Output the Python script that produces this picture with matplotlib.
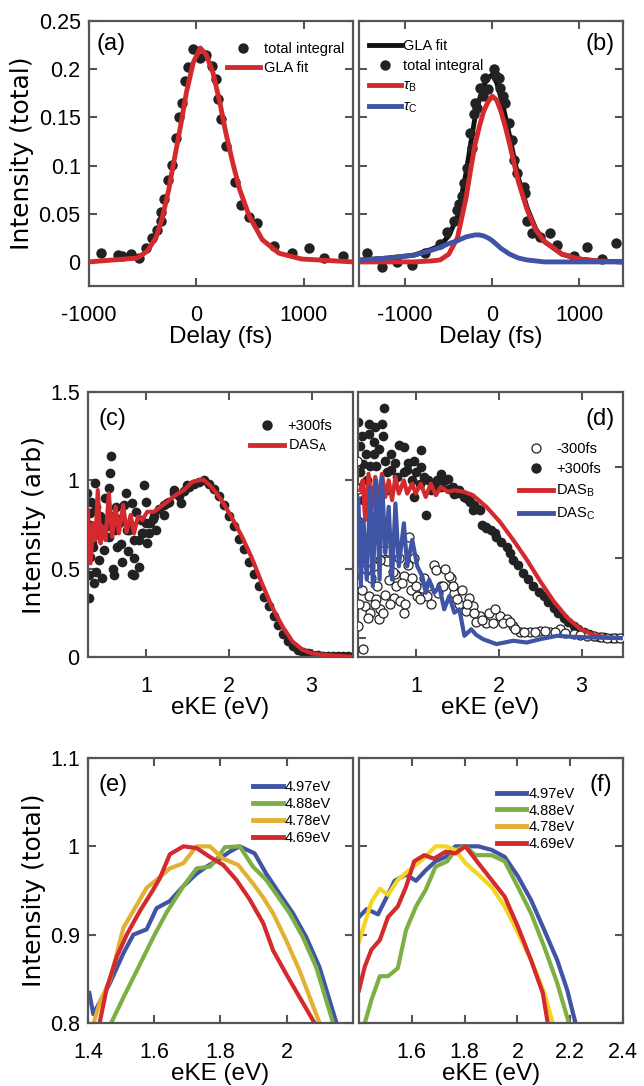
import numpy as np
import matplotlib
matplotlib.use("Agg")
import matplotlib.pyplot as plt
from matplotlib.lines import Line2D
from matplotlib.ticker import FormatStrFormatter

plt.rcParams['font.family'] = ['Liberation Sans', 'DejaVu Sans']
plt.rcParams['mathtext.fontset'] = 'custom'
plt.rcParams['mathtext.rm'] = 'Liberation Sans'
plt.rcParams['mathtext.it'] = 'Liberation Sans:italic'

RED = '#d42a2e'
BLUE = '#3f54a5'
GREEN = '#7daf45'
MUST = '#e2b132'
YEL = '#f4d522'
SPINE = '#555555'

# ---- (a) total integral vs delay
a_delay = [-890, -734, -690, -606, -532, -468, -413, -367, -330, -330, -303, -266, -229, -193,
           -165, -138, -101, -73, -28, 37, 92, 147, 183, 202, 229, 275, 358, 413, 495, 569,
           725, 890, 1046, 1193, 1367]
a_int = [0.009, 0.007, 0.006, 0.008, 0.004, 0.014, 0.025, 0.033, 0.042, 0.052, 0.065, 0.085,
         0.101, 0.129, 0.150, 0.165, 0.188, 0.202, 0.221, 0.212, 0.215, 0.203, 0.190, 0.169,
         0.148, 0.120, 0.083, 0.059, 0.047, 0.040, 0.016, 0.009, 0.014, 0.004, 0.006]
a_fit_x = [-1000, -550, -459, -376, -321, -257, -211, -147, -92, -28, 37, 92, 156, 220, 275,
           339, 404, 495, 615, 771, 982, 1460]
a_fit_y = [0.0, 0.004, 0.011, 0.025, 0.044, 0.075, 0.103, 0.141, 0.176, 0.207, 0.222, 0.215,
           0.196, 0.165, 0.134, 0.103, 0.075, 0.047, 0.023, 0.009, 0.003, 0.0]

# ---- (b) components
b_delay = [-1440, -1268, -1096, -923, -770, -598, -521, -444, -406, -349, -291, -253, -215,
           -195, -138, -80, -46, 15, 73, 92, 149, 188, 226, 245, 284, 360, 379, 398, 456, 552,
           667, 743, 935, 1088, 1261, 1425, -380, -320, -230, -170, -110, 40, 120]
b_int = [0.009, -0.005, 0.0, -0.003, 0.009, 0.019, 0.031, 0.042, 0.054, 0.068, 0.097, 0.134,
         0.153, 0.165, 0.180, 0.191, 0.179, 0.200, 0.191, 0.180, 0.165, 0.144, 0.127, 0.106,
         0.092, 0.078, 0.071, 0.042, 0.030, 0.026, 0.030, 0.018, 0.006, 0.015, 0.003, 0.020,
         0.060, 0.082, 0.118, 0.160, 0.172, 0.193, 0.172]
b_grid = [-1500, -1200, -900, -700, -600, -500, -400, -300, -250, -200, -150, -100, -50, 0,
          50, 100, 150, 200, 250, 300, 400, 500, 600, 800, 1000, 1200, 1500]
tau_b = [0.0, 0.0, 0.0, 0.001, 0.002, 0.008, 0.025, 0.067, 0.095, 0.121, 0.140, 0.156, 0.166,
         0.172, 0.168, 0.156, 0.140, 0.122, 0.102, 0.083, 0.054, 0.033, 0.021, 0.008, 0.003,
         0.001, 0.0]
tau_c = [0.002, 0.004, 0.007, 0.012, 0.015, 0.019, 0.022, 0.026, 0.027, 0.028, 0.028, 0.027,
         0.025, 0.022, 0.018, 0.014, 0.011, 0.008, 0.006, 0.004, 0.002, 0.001, 0.0, 0.0, 0.0,
         0.0, 0.0]

# ---- (c) +300fs spectrum and DAS_A
c_eke = [0.572, 0.564, 0.39, 0.552, 0.29, 0.754, 0.976, 0.996, 0.834, 0.33, 0.633, 0.49, 1.218,
         1.339, 1.42, 1.117, 1.016, 0.855, 0.652, 0.49, 0.33, 0.713, 0.915, 0.612, 0.855, 0.47,
         0.309, 0.37, 0.309, 0.41, 0.773, 0.936, 1.258, 1.5, 0.31, 0.35, 0.43, 0.53, 0.68,
         0.80, 0.95, 1.05,
         0.32, 0.34, 0.36, 0.40, 0.43, 0.45, 0.50, 0.55, 0.58, 0.62, 0.66, 0.70, 0.74, 0.78,
         0.82, 0.86, 0.88, 0.92, 0.96, 1.00, 1.04, 1.08, 0.40, 0.60, 0.83,
         1.10, 1.16, 1.22, 1.28, 1.34, 1.40, 1.46, 1.52, 1.58, 1.64, 1.70, 1.76, 1.82, 1.88,
         1.94, 2.00, 2.06, 2.12, 2.18, 2.24, 2.30, 2.36, 2.42, 2.48, 2.54, 2.60, 2.66, 2.72,
         2.78, 2.84, 2.90, 2.96, 3.02, 3.08, 3.14, 3.20, 3.26, 3.32, 3.38, 3.44, 3.48]
c_int = [1.138, 1.04, 0.983, 0.955, 0.926, 0.926, 0.973, 0.879, 0.87, 0.813, 0.851, 0.775,
         0.804, 0.945, 0.87, 0.719, 0.643, 0.662, 0.624, 0.606, 0.568, 0.539, 0.511, 0.464,
         0.464, 0.445, 0.464, 0.417, 0.332, 0.70, 0.719, 0.775, 0.87, 0.973, 0.72, 0.65,
         0.69, 0.74, 0.76, 0.72, 0.70, 0.76,
         0.75, 0.88, 0.62, 0.85, 0.55, 0.80, 0.90, 0.68, 0.80, 0.72, 0.78, 0.64, 0.86, 0.60,
         0.75, 0.56, 0.82, 0.66, 0.70, 0.76, 0.70, 0.78, 0.48, 0.50, 0.47,
         0.80, 0.84, 0.86, 0.88, 0.93, 0.91, 0.94, 0.96, 0.98, 0.99, 1.0, 0.98, 0.95, 0.91,
         0.86, 0.80, 0.74, 0.67, 0.61, 0.54, 0.47, 0.40, 0.34, 0.29, 0.23, 0.18, 0.13, 0.09,
         0.06, 0.04, 0.03, 0.02, 0.012, 0.01, 0.008, 0.007, 0.006, 0.005, 0.004, 0.003, 0.002]
das_a_x = [0.297, 0.33, 0.361, 0.39, 0.418, 0.451, 0.482, 0.511, 0.552, 0.592, 0.633, 0.673,
           0.725, 0.766, 0.815, 0.855, 0.903, 0.955, 1.016, 1.097, 1.178, 1.258, 1.36, 1.46,
           1.561, 1.69, 1.79, 1.91, 2.03, 2.16, 2.28, 2.40, 2.52, 2.65, 2.77, 2.89, 3.01,
           3.17, 3.46]
das_a_y = [0.832, 0.53, 0.757, 0.662, 0.945, 0.643, 0.737, 0.662, 0.926, 0.681, 0.851, 0.70,
           0.86, 0.709, 0.804, 0.70, 0.794, 0.775, 0.822, 0.822, 0.851, 0.879, 0.917, 0.945,
           0.992, 1.005, 0.964, 0.889, 0.795, 0.681, 0.559, 0.417, 0.285, 0.172, 0.087,
           0.041, 0.02, 0.011, 0.002]

# ---- (d) -300fs / +300fs spectra, DAS_B and DAS_C
dp_eke = [0.61, 0.305, 0.427, 0.589, 0.427, 0.326, 0.488, 0.854, 1.057, 0.488, 0.63, 0.366,
          0.976, 1.057, 1.301, 1.382, 0.894, 0.772, 0.406, 0.284, 0.65, 0.976, 1.585, 1.687,
          1.118, 0.366, 1.179, 1.463, 0.52, 0.70,
          0.32, 0.35, 0.40, 0.45, 0.50, 0.55, 0.60, 0.65, 0.70, 0.75, 0.80, 0.85, 0.90, 0.95,
          1.00, 1.05, 1.10, 1.15, 1.20, 1.25, 1.30, 1.35, 1.40, 1.45, 1.50, 1.55, 1.60, 1.65,
          1.70, 1.75, 1.80, 1.85, 1.90, 1.95, 2.03, 2.13, 2.23, 2.35, 2.48, 2.60, 2.72, 2.84,
          2.96, 3.09, 3.21, 3.35, 3.42,
          1.24, 1.524, 1.646, 1.768, 1.85, 1.972, 2.094, 2.174, 2.296, 2.418, 2.54, 2.662,
          2.784, 2.906, 3.028, 3.15, 3.272, 3.496]
dp_int = [1.412, 1.328, 1.319, 1.319, 1.262, 1.197, 1.215, 1.187, 1.169, 1.15, 1.112, 1.094,
          1.112, 1.075, 1.037, 1.01, 1.056, 1.019, 1.0, 0.962, 0.944, 0.906, 0.906, 0.831,
          0.803, 0.888, 0.944, 0.925, 1.08, 1.06,
          1.05, 1.25, 1.15, 1.08, 1.30, 1.18, 1.25, 1.05, 1.15, 1.10, 1.20, 1.05, 1.10, 1.0,
          1.05, 0.98, 1.02, 1.0, 0.97, 1.0, 0.96, 1.0, 0.95, 0.96, 0.93, 0.92, 0.90, 0.88,
          0.86, 0.84, 0.75, 0.73, 0.72, 0.70, 0.65, 0.59, 0.52, 0.44, 0.37, 0.31, 0.25, 0.20,
          0.157, 0.128, 0.115, 0.109, 0.108,
          0.96, 0.944, 0.888, 0.831, 0.738, 0.682, 0.625, 0.551, 0.476, 0.401, 0.345, 0.279,
          0.223, 0.176, 0.139, 0.12, 0.111, 0.107]
dm_eke = [0.284, 0.284, 0.305, 0.284, 0.305, 0.366, 0.387, 0.427, 0.448, 0.57, 0.549, 0.488,
          0.65, 0.671, 0.732, 0.813, 0.854, 0.854, 0.915, 0.935, 1.016, 1.077, 1.22, 1.138,
          1.301, 1.423, 1.463, 1.585, 1.646, 0.326, 1.24, 1.402, 1.321, 1.524, 1.606, 1.687,
          1.768, 1.85, 1.931, 2.012, 2.094, 2.174, 2.256, 2.378, 2.5, 2.622, 2.744, 2.906,
          3.069, 3.232, 3.394, 0.40, 0.52, 0.60, 0.75, 0.98,
          0.30, 0.31, 0.33, 0.35, 0.37, 0.40, 0.42, 0.46, 0.50, 0.53, 0.56, 0.60, 0.62, 0.66,
          0.69, 0.72, 0.76, 0.79, 0.83, 0.87, 0.90, 0.95, 1.00, 1.05, 1.10, 1.15, 1.18, 1.26,
          1.35, 1.45, 1.50, 1.55, 1.62, 1.70, 1.72, 1.80, 1.88, 1.96, 2.05, 2.13, 2.20, 2.30,
          2.44, 2.56, 2.68, 2.80, 2.98, 3.15, 3.31, 3.46]
dm_int = [1.112, 0.775, 0.588, 0.419, 0.176, 0.045, 0.288, 0.345, 0.251, 0.27, 0.213, 0.513,
          0.541, 0.438, 0.335, 0.316, 0.251, 0.457, 0.682, 0.382, 0.345, 0.392, 0.522, 0.345,
          0.40, 0.448, 0.363, 0.27, 0.335, 0.682, 0.494, 0.457, 0.401, 0.298, 0.26, 0.288,
          0.232, 0.195, 0.195, 0.232, 0.213, 0.176, 0.139, 0.139, 0.148, 0.139, 0.157, 0.129,
          0.12, 0.114, 0.107, 0.62, 0.33, 0.60, 0.47, 0.56,
          0.95, 0.30, 0.50, 0.38, 0.60, 0.50, 0.22, 0.45, 0.30, 0.40, 0.55, 0.25, 0.35, 0.60,
          0.30, 0.48, 0.40, 0.56, 0.42, 0.30, 0.52, 0.45, 0.40, 0.33, 0.45, 0.40, 0.30, 0.36,
          0.50, 0.40, 0.33, 0.38, 0.30, 0.25, 0.20, 0.21, 0.25, 0.27, 0.19, 0.20, 0.16, 0.14,
          0.14, 0.15, 0.14, 0.135, 0.125, 0.117, 0.11, 0.107]
das_b_x = [0.326, 0.357, 0.387, 0.427, 0.467, 0.509, 0.549, 0.589, 0.63, 0.671, 0.711, 0.752,
           0.793, 0.854, 0.894, 0.955, 0.996, 1.057, 1.118, 1.179, 1.24, 1.301, 1.382, 1.463,
           1.58, 1.687, 1.85, 2.012, 2.174, 2.338, 2.5, 2.662, 2.826, 2.988, 3.15, 3.313, 3.496]
das_b_y = [0.944, 1.0, 0.775, 1.037, 0.85, 1.019, 0.869, 1.037, 0.906, 1.0, 0.888, 1.019,
           0.925, 1.0, 0.925, 0.981, 0.925, 0.981, 0.906, 0.981, 0.916, 0.963, 0.935, 0.944,
           0.935, 0.916, 0.85, 0.766, 0.663, 0.551, 0.429, 0.316, 0.223, 0.157, 0.124, 0.111,
           0.107]
das_c_x = [0.305, 0.333, 0.366, 0.406, 0.448, 0.479, 0.52, 0.561, 0.589, 0.63, 0.671, 0.711,
           0.752, 0.793, 0.854, 0.894, 0.955, 1.016, 1.077, 1.118, 1.159, 1.22, 1.28, 1.341,
           1.402, 1.463, 1.524, 1.585, 1.667, 1.728, 1.809, 1.972, 2.174, 2.338, 2.5, 2.704,
           2.906, 3.15, 3.496]
das_c_y = [0.897, 0.40, 0.775, 0.438, 0.962, 0.40, 1.0, 0.438, 1.019, 0.588, 0.85, 0.438,
           0.869, 0.513, 0.757, 0.513, 0.663, 0.513, 0.457, 0.363, 0.438, 0.363, 0.40, 0.27,
           0.345, 0.251, 0.27, 0.12, 0.157, 0.125, 0.101, 0.073, 0.092, 0.082, 0.101, 0.12,
           0.114, 0.11, 0.107]

# ---- (e) normalised spectra, four photon energies
e_blue_x = [1.404, 1.416, 1.466, 1.507, 1.537, 1.577, 1.607, 1.647, 1.688, 1.728, 1.758, 1.798,
            1.828, 1.858, 1.903, 1.938, 1.979, 2.019, 2.059, 2.099, 2.15]
e_blue_y = [0.834, 0.81, 0.845, 0.879, 0.90, 0.906, 0.93, 0.938, 0.955, 0.969, 0.977, 0.986,
            0.994, 1.0, 0.992, 0.969, 0.946, 0.924, 0.897, 0.863, 0.80]
e_green_x = [1.47, 1.507, 1.547, 1.597, 1.637, 1.688, 1.728, 1.768, 1.788, 1.813, 1.858, 1.898,
             1.938, 1.968, 2.009, 2.049, 2.089, 2.14]
e_green_y = [0.80, 0.829, 0.859, 0.897, 0.925, 0.955, 0.975, 0.977, 0.985, 0.999, 1.0, 0.977,
             0.962, 0.946, 0.924, 0.897, 0.863, 0.80]
e_yel_x = [1.417, 1.437, 1.466, 1.507, 1.537, 1.577, 1.607, 1.647, 1.688, 1.728, 1.768, 1.808,
           1.853, 1.898, 1.929, 1.959, 1.999, 2.039, 2.099]
e_yel_y = [0.80, 0.825, 0.848, 0.908, 0.927, 0.953, 0.962, 0.975, 0.981, 1.0, 1.0, 0.986,
           0.979, 0.958, 0.942, 0.924, 0.893, 0.859, 0.80]
e_red_x = [1.435, 1.457, 1.487, 1.517, 1.557, 1.597, 1.617, 1.647, 1.688, 1.728, 1.768, 1.808,
           1.848, 1.888, 1.929, 1.959, 1.999, 2.039, 2.084]
e_red_y = [0.80, 0.84, 0.875, 0.90, 0.927, 0.951, 0.964, 0.991, 1.0, 0.998, 0.988, 0.979,
           0.962, 0.94, 0.913, 0.882, 0.855, 0.829, 0.80]

# ---- (f)
f_blue_x = [1.4, 1.429, 1.472, 1.504, 1.535, 1.578, 1.616, 1.653, 1.69, 1.728, 1.765, 1.852,
            1.902, 1.952, 2.002, 2.052, 2.102, 2.151, 2.189, 2.22]
f_blue_y = [0.92, 0.929, 0.923, 0.942, 0.961, 0.968, 0.961, 0.973, 0.983, 0.988, 1.0, 1.0,
            0.996, 0.988, 0.966, 0.939, 0.905, 0.871, 0.837, 0.80]
f_green_x = [1.422, 1.447, 1.479, 1.51, 1.547, 1.578, 1.616, 1.653, 1.69, 1.734, 1.765, 1.803,
             1.84, 1.902, 1.952, 2.002, 2.052, 2.102, 2.151, 2.195]
f_green_y = [0.80, 0.826, 0.853, 0.853, 0.862, 0.905, 0.932, 0.951, 0.977, 0.983, 0.996, 1.0,
             0.99, 0.99, 0.983, 0.954, 0.924, 0.886, 0.845, 0.80]
f_yel_x = [1.4, 1.422, 1.447, 1.479, 1.51, 1.547, 1.59, 1.64, 1.69, 1.728, 1.765, 1.803, 1.852,
           1.902, 1.952, 2.002, 2.052, 2.102, 2.134]
f_yel_y = [0.892, 0.913, 0.937, 0.952, 0.945, 0.962, 0.973, 0.985, 1.0, 1.0, 0.996, 0.981,
           0.968, 0.954, 0.932, 0.902, 0.871, 0.834, 0.80]
f_red_x = [1.4, 1.422, 1.447, 1.479, 1.51, 1.547, 1.578, 1.609, 1.647, 1.684, 1.728, 1.765,
           1.803, 1.852, 1.902, 1.952, 2.002, 2.052, 2.096, 2.115]
f_red_y = [0.837, 0.864, 0.883, 0.894, 0.92, 0.932, 0.954, 0.983, 0.99, 0.986, 0.994, 0.992,
           1.0, 0.981, 0.962, 0.943, 0.909, 0.871, 0.834, 0.80]

energy_labels = ['4.97eV', '4.88eV', '4.78eV', '4.69eV']

TICK_FS = 15.5
XLAB = dict(fontsize=17.5, labelpad=0)
YLAB = dict(fontsize=18, family='DejaVu Sans', labelpad=3)
PANEL_FS = 17
LEG_FS = 10.5


def style(ax, xlim, ylim, xticks, yticks, xlabels=True, ylabels=True):
    ax.set_xlim(*xlim)
    ax.set_ylim(*ylim)
    ax.set_xticks(xticks)
    ax.set_yticks(yticks)
    ax.xaxis.set_major_formatter(FormatStrFormatter('%g'))
    ax.yaxis.set_major_formatter(FormatStrFormatter('%g'))
    for s in ax.spines.values():
        s.set_color(SPINE)
        s.set_linewidth(1.6)
    ax.tick_params(direction='in', length=6, width=1.5, color=SPINE, top=True, right=True,
                   labelsize=TICK_FS)
    ax.tick_params(axis='x', pad=14)
    ax.tick_params(axis='y', pad=6)
    if not xlabels:
        ax.set_xticklabels([])
    if not ylabels:
        ax.set_yticklabels([])


fig = plt.figure(figsize=(6.44, 10.86), dpi=100)
W, H = 644.0, 1086.0


def add_ax(l, r, t, b):
    return fig.add_axes([l / W, 1 - b / H, (r - l) / W, (b - t) / H])


ax_a = add_ax(89, 353, 21, 286)
ax_b = add_ax(359, 623, 21, 286)
ax_c = add_ax(88, 353, 392, 657)
ax_d = add_ax(358, 623, 392, 657)
ax_e = add_ax(88, 353, 758, 1023)
ax_f = add_ax(359, 623, 758, 1023)

dot = dict(ls='none', marker='o', color='#222222', mec='none')

# (a)
ax_a.plot(a_delay, a_int, ms=7.5, zorder=2, **dot)
ax_a.plot(a_fit_x, a_fit_y, '-', color=RED, lw=3.5, zorder=3)
style(ax_a, (-1000, 1460), (-0.025, 0.25), [-1000, 0, 1000], np.arange(0, 0.26, 0.05))
ax_a.set_xlabel('Delay (fs)', **XLAB)
ax_a.set_ylabel('Intensity (total)', **YLAB)
ax_a.text(0.03, 0.915, '(a)', transform=ax_a.transAxes, fontsize=PANEL_FS, va='center')
h = [Line2D([], [], ms=7.5, **dot), Line2D([], [], color=RED, lw=3.5)]
ax_a.legend(h, ['total integral', 'GLA fit'], loc='upper right', bbox_to_anchor=(1.0, 0.955),
            frameon=False, fontsize=LEG_FS, handlelength=2.3, handletextpad=0.25,
            labelspacing=0.35, borderaxespad=0.2)

# (b)
gla_b = np.array(tau_b) + np.array(tau_c)
ax_b.plot(b_grid, gla_b, '-', color='#111111', lw=3.5, zorder=1)
ax_b.plot(b_delay, b_int, ms=7.5, zorder=2, **dot)
ax_b.plot(b_grid, tau_b, '-', color=RED, lw=3.5, zorder=3)
ax_b.plot(b_grid, tau_c, '-', color=BLUE, lw=3.5, zorder=4)
style(ax_b, (-1530, 1500), (-0.025, 0.25), [-1000, 0, 1000], np.arange(0, 0.26, 0.05),
      ylabels=False)
ax_b.set_xlabel('Delay (fs)', **XLAB)
ax_b.text(0.97, 0.915, '(b)', transform=ax_b.transAxes, fontsize=PANEL_FS, va='center',
          ha='right')
h = [Line2D([], [], color='#111111', lw=3.5), Line2D([], [], ms=7.5, **dot),
     Line2D([], [], color=RED, lw=3.5), Line2D([], [], color=BLUE, lw=3.5)]
ax_b.legend(h, ['GLA fit', 'total integral', r'$\tau_{\rm B}$', r'$\tau_{\rm C}$'],
            loc='upper left', bbox_to_anchor=(0.005, 0.965), frameon=False, fontsize=LEG_FS,
            handlelength=2.2, handletextpad=0.15, labelspacing=0.4, borderaxespad=0.2)

# (c)
ax_c.plot(c_eke, c_int, ms=7, zorder=2, **dot)
ax_c.plot(das_a_x, das_a_y, '-', color=RED, lw=3, zorder=3)
style(ax_c, (0.3, 3.5), (0, 1.5), [1, 2, 3], [0, 0.5, 1, 1.5])
ax_c.set_xlabel('eKE (eV)', **XLAB)
ax_c.set_ylabel('Intensity (arb)', **YLAB)
ax_c.text(0.04, 0.9, '(c)', transform=ax_c.transAxes, fontsize=PANEL_FS, va='center')
h = [Line2D([], [], ms=7.5, **dot), Line2D([], [], color=RED, lw=3.5)]
ax_c.legend(h, ['+300fs', r'DAS$_{\rm A}$'], loc='upper right', bbox_to_anchor=(0.955, 0.93),
            frameon=False, fontsize=LEG_FS, handlelength=2.3, handletextpad=0.25,
            labelspacing=0.3, borderaxespad=0.2)

# (d)
ax_d.plot(dp_eke, dp_int, ms=7, zorder=2, **dot)
ax_d.plot(dm_eke, dm_int, 'o', mfc='white', mec='#222222', mew=0.9, ms=6.5, zorder=3)
ax_d.plot(das_b_x, das_b_y, '-', color=RED, lw=3, zorder=4)
ax_d.plot(das_c_x, das_c_y, '-', color=BLUE, lw=3, zorder=5)
style(ax_d, (0.3, 3.5), (0, 1.5), [1, 2, 3], [0.11], ylabels=False)
ax_d.tick_params(axis='y', right=False)
ax_d2 = ax_d.twinx()
ax_d2.set_ylim(0, 1.5)
ax_d2.set_yticks([0.562, 1.073])
ax_d2.set_yticklabels([])
ax_d2.tick_params(direction='in', length=6, width=1.5, color=SPINE)
for s in ax_d2.spines.values():
    s.set_visible(False)
ax_d.set_xlabel('eKE (eV)', **XLAB)
ax_d.text(0.97, 0.9, '(d)', transform=ax_d.transAxes, fontsize=PANEL_FS, va='center',
          ha='right')
h = [Line2D([], [], ls='none', marker='o', mfc='white', mec='#222222', mew=0.9, ms=6.5),
     Line2D([], [], ms=7.5, **dot),
     Line2D([], [], color=RED, lw=3.5), Line2D([], [], color=BLUE, lw=3.5)]
ax_d.legend(h, ['-300fs', '+300fs', r'DAS$_{\rm B}$', r'DAS$_{\rm C}$'], loc='upper right',
            bbox_to_anchor=(0.95, 0.845), frameon=False, fontsize=LEG_FS, handlelength=2.3,
            handletextpad=0.25, labelspacing=0.45, borderaxespad=0.2)

# (e)
for xs, ys, c in [(e_blue_x, e_blue_y, BLUE), (e_green_x, e_green_y, GREEN),
                  (e_yel_x, e_yel_y, MUST), (e_red_x, e_red_y, RED)]:
    ax_e.plot(xs, ys, '-', color=c, lw=3)
style(ax_e, (1.4, 2.2), (0.8, 1.1), [1.4, 1.6, 1.8, 2.0], [0.8, 0.9, 1.0, 1.1])
ax_e.set_xlabel('eKE (eV)', **XLAB)
ax_e.set_ylabel('Intensity (total)', **YLAB)
ax_e.text(0.04, 0.9, '(e)', transform=ax_e.transAxes, fontsize=PANEL_FS, va='center')
h = [Line2D([], [], color=c, lw=3.5) for c in [BLUE, GREEN, MUST, RED]]
ax_e.legend(h, energy_labels, loc='upper right', bbox_to_anchor=(0.95, 0.95), frameon=False,
            fontsize=LEG_FS, handlelength=2.0, handletextpad=0.15, labelspacing=0.2,
            borderaxespad=0.2)

# (f)
for xs, ys, c in [(f_blue_x, f_blue_y, BLUE), (f_green_x, f_green_y, GREEN),
                  (f_yel_x, f_yel_y, YEL), (f_red_x, f_red_y, RED)]:
    ax_f.plot(xs, ys, '-', color=c, lw=3)
style(ax_f, (1.4, 2.4), (0.8, 1.1), [1.6, 1.8, 2.0, 2.2, 2.4], [0.8, 0.9, 1.0, 1.1],
      ylabels=False)
ax_f.set_xlabel('eKE (eV)', **XLAB)
ax_f.text(0.96, 0.9, '(f)', transform=ax_f.transAxes, fontsize=PANEL_FS, va='center',
          ha='right')
ax_f.legend(h, energy_labels, loc='upper right', bbox_to_anchor=(0.85, 0.925), frameon=False,
            fontsize=LEG_FS, handlelength=2.0, handletextpad=0.15, labelspacing=0.2,
            borderaxespad=0.2)

fig.savefig('out.png', dpi=100)
